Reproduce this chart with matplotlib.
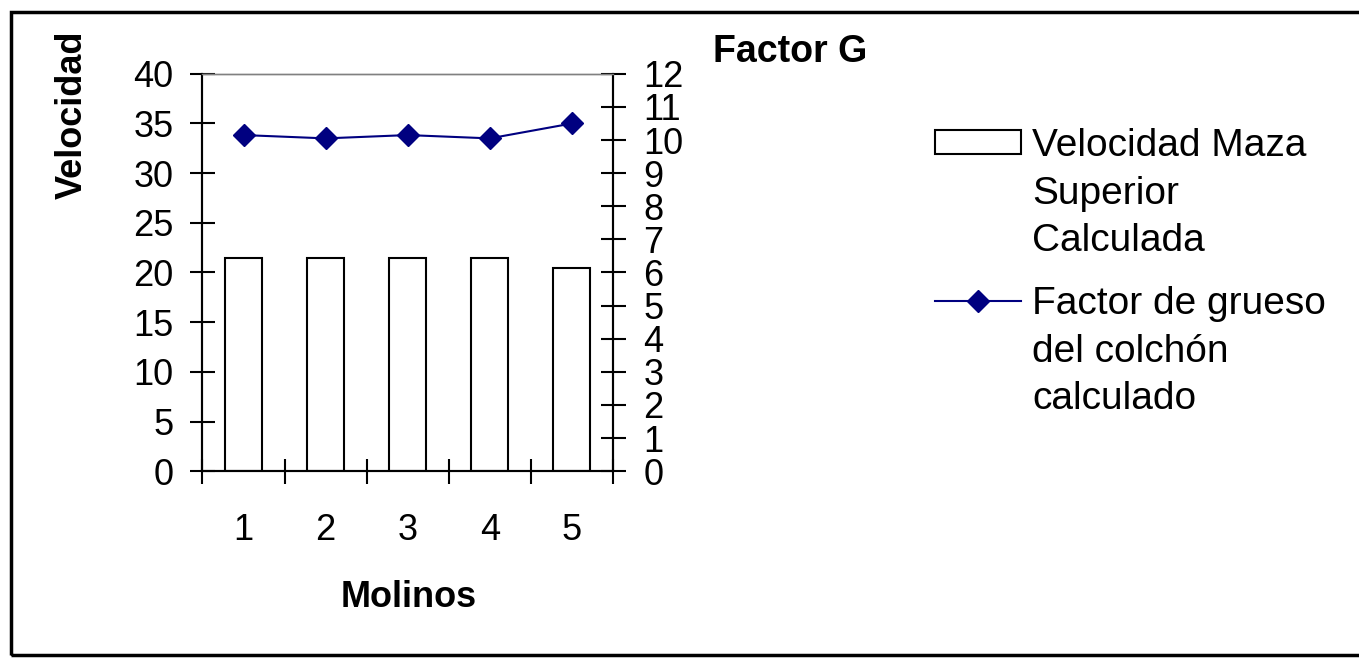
import matplotlib.pyplot as plt
from matplotlib.patches import Rectangle
from matplotlib.lines import Line2D

plt.rcParams['font.family'] = ['Liberation Sans', 'DejaVu Sans']

molinos = [1, 2, 3, 4, 5]
velocidad = [21.5, 21.5, 21.5, 21.5, 20.5]
factor_g = [10.15, 10.05, 10.15, 10.05, 10.5]

fig = plt.figure(figsize=(13.59, 6.59), dpi=100)
ax = fig.add_axes([0.149, 0.285, 0.302, 0.603])
ax2 = ax.twinx()

bars = ax.bar(molinos, velocidad, width=0.45, color='white', edgecolor='black',
              linewidth=1.5, zorder=2)
line, = ax2.plot(molinos, factor_g, color='#000080', linewidth=1.5, marker='D',
                 markersize=11)

ax.set_xlim(0.5, 5.5)
ax.set_ylim(0, 40)
ax2.set_ylim(0, 12)
ax.set_yticks(range(0, 41, 5))
ax2.set_yticks(range(0, 13))

ax.set_xticks(molinos)
ax.set_xticks([0.5, 1.5, 2.5, 3.5, 4.5, 5.5], minor=True)
ax.tick_params(axis='x', which='major', length=0, pad=30, labelsize=26)
ax.tick_params(axis='x', which='minor', direction='inout', length=18, width=1.5)
ax.tick_params(axis='y', direction='inout', length=18, width=1.5, pad=12, labelsize=26)
ax2.tick_params(axis='y', direction='inout', length=18, width=1.5, pad=13, labelsize=26)

for a in (ax, ax2):
    a.spines['left'].set_linewidth(1.5)
    a.spines['right'].set_linewidth(1.5)
    a.spines['bottom'].set_linewidth(1.5)
    a.spines['top'].set_color('#808080')
    a.spines['top'].set_linewidth(1)

fig.text(0.053, 0.826, 'Velocidad', rotation=90, ha='center', va='center',
         fontsize=26, fontweight='bold')
fig.text(0.525, 0.921, 'Factor G', ha='left', va='center', fontsize=27, fontweight='bold')
fig.text(0.301, 0.094, 'Molinos', ha='center', va='center', fontsize=26, fontweight='bold')

# legend: one row per text line so the key sits beside the first line
blank = Line2D([], [], linestyle='none')
bar_key = Rectangle((0, 0), 1, 1, facecolor='white', edgecolor='black', linewidth=1.5)
leg_kw = dict(loc='upper left', frameon=False, fontsize=28, handlelength=2.2,
              handleheight=0.55, handletextpad=0.3, labelspacing=0.3,
              borderaxespad=0, borderpad=0)
leg1 = fig.legend(handles=[bar_key, blank, blank],
                  labels=['Velocidad Maza', 'Superior', 'Calculada'],
                  bbox_to_anchor=(0.688, 0.806), **leg_kw)
leg2 = fig.legend(handles=[line, blank, blank],
                  labels=['Factor de grueso', 'del colchón', 'calculado'],
                  bbox_to_anchor=(0.688, 0.566), **leg_kw)

fig.patches.append(Rectangle((0.008, 0.006), 1.1, 0.976, transform=fig.transFigure,
                             fill=False, edgecolor='black', linewidth=2.5))

fig.savefig('out.png', dpi=100)
